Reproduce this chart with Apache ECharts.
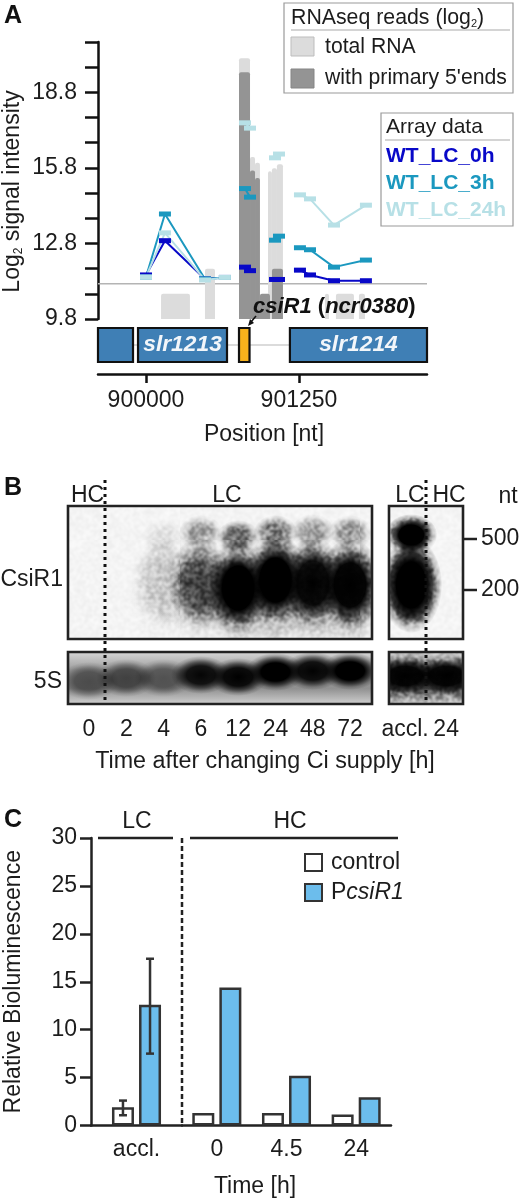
<!DOCTYPE html>
<html><head><meta charset="utf-8">
<style>html,body{margin:0;padding:0;background:#fff}#c{width:520px;height:1199px}</style>
<script src="https://cdn.jsdelivr.net/npm/echarts@6/dist/echarts.min.js"></script>
</head><body><div id="c"></div>
<script>
// ---------- Panel A data ----------
const posMin = 899608, posMax = 902296;
const posTicks = [900000, 901250];
const signalTicks = [9.8,10.8,11.8,12.8,13.8,14.8,15.8,16.8,17.8,18.8,19.8,20.8];
const signalLabels = [9.8,12.8,15.8,18.8];
const baseline = 11.2;
const totalStart = [900123,900482,900760,900850,900891,900997,901029,901070,901462,901552,901740];
const totalEnd   = [900359,900564,900850,900891,900931,901029,901070,901119,901495,901699,901789];
const totalTop   = [10.8,11.8,20.15,16.23,16.0,15.67,15.79,15.95,10.8,10.8,10.8];
const primaryStart = [900760,900850,900891,900931,901029];
const primaryEnd   = [900850,900891,900931,901013,901119];
const primaryTop   = [19.6,15.7,15.4,10.8,11.8];
const arrayPos = [900000,900155,900482,900645,900700,900809,900850,900900,901054,901087,901200,901258,901340,901536,901797];
const wt0h  = [11.55,12.91,11.39,11.45,null,11.86,11.72,null,11.37,11.37,null,11.74,11.55,11.32,11.32];
const wt3h  = [11.47,13.97,11.39,11.45,null,14.98,14.64,null,12.93,13.09,null,12.63,12.55,11.86,12.14];
const wt24h = [11.47,13.22,11.35,11.45,null,17.59,17.38,null,16.2,16.35,null,14.73,14.57,13.53,14.32];
const geneStart = [899608,899935,900760,901176];
const geneEnd   = [899894,900662,900846,902296];
const geneName  = ['','slr1213','','slr1214'];
const geneKind  = [0,0,1,0];
// ---------- Panel B data ----------
const laneLabels = ['0','2','4','6','12','24','48','72'];
const laneIdx = [0,1,2,3,4,5,6,7];
const upperBand = [0,0,0.07,0.3,0.52,0.46,0.3,0.32];
const upperDist = [27,27,32,27,32,27,26,27];
const lowerBand = [0,0,0.15,0.62,1,1,0.95,0.98];
const lowerDist = [76,76,76,77,82,74,77,79];
const hazeBand  = [0,0,0.03,0.12,0.2,0.2,0.18,0.18];
const hazeDist  = [95,95,95,95,100,100,100,100];
const sideLabels = ['accl.','24'];
const sideLanes = [0.15,1];
const sideUpper = [1.1,0];
const sideUpperDist = [29,29];
const sideLower = [1.3,0];
const sideLowerDist = [79,79];
const sizeLabels = ['500','200'];
const sizeDist = [33,84];
const band5S = [0.45,0.52,0.42,0.88,0.92,1,0.9,1];
const dist5S = [29,26,26,23,25,20,19,19];
const band5Sside = [0.95,0.95];
const dist5Sside = [24,24];
// ---------- Panel C data ----------
const accCat = ['accl.'];
const hcCat = ['0','4.5','24'];
const controlAcc = [1.9];
const reporterAcc = [12.6];
const controlHC = [1.3,1.3,1.15];
const reporterHC = [14.4,5.2,2.95];
const errControl = [1.07,2.6];
const errReporter = [7.5,17.4];

const FF = '"Liberation Sans",Arial,sans-serif';
const INK = '#1c1c1c';
const chart = echarts.init(document.getElementById('c'), null, {renderer:'canvas'});

function blocks(start,end,top,color,xi,z){
  return {type:'custom',xAxisIndex:xi,yAxisIndex:xi,z,silent:true,
    data:start.map((s,i)=>[s,end[i],top[i]]),encode:{x:[0,1],y:2},
    renderItem(p,api){
      const a=api.coord([api.value(0),api.value(2)]), b=api.coord([api.value(1),signalTicks[0]]);
      return {type:'rect',shape:{x:a[0],y:a[1],width:b[0]-a[0],height:b[1]-a[1],r:[2,2,0,0]},style:{fill:color}};
    }};
}
function arrayLine(vals,color){
  return {type:'line',xAxisIndex:0,yAxisIndex:0,z:6,silent:true,connectNulls:false,
    data:arrayPos.map((x,i)=>[x,vals[i]]),symbol:'rect',symbolSize:[12,5],showSymbol:true,
    lineStyle:{color,width:2},itemStyle:{color}};
}
function bands(xi,lanes,dist,vals,rx,ry,z){
  return {type:'custom',xAxisIndex:xi,yAxisIndex:xi,z:z||3,clip:true,silent:true,
    data:lanes.map((l,i)=>[l,dist[i],vals[i]]),encode:{x:0,y:1},
    renderItem(p,api){
      const c=api.coord([api.value(0),api.value(1)]), k=api.value(2);
      const a=f=>'rgba(0,0,0,'+Math.min(1,k*f).toFixed(3)+')';
      return {type:'circle',x:c[0],y:c[1],scaleX:1,scaleY:ry/rx,shape:{cx:0,cy:0,r:rx},
        style:{fill:new echarts.graphic.RadialGradient(.5,.5,.5,[
          {offset:0,color:a(1.1)},{offset:.48,color:a(1.0)},{offset:.68,color:a(.62)},{offset:.85,color:a(.2)},{offset:1,color:a(0)}])}};
    }};
}
function errBar(vals,idx){
  return {type:'custom',xAxisIndex:6,yAxisIndex:6,z:8,silent:true,
    data:[[0,vals[0],vals[1]]],encode:{x:0,y:[1,2]},
    renderItem(p,api){
      const lay=api.barLayout({count:2,barWidth:22,barGap:'23%'})[idx];
      const lo=api.coord([api.value(0),api.value(1)]),hi=api.coord([api.value(0),api.value(2)]);
      const x=lo[0]+lay.offsetCenter, st={stroke:'#333',lineWidth:2.5};
      const ln=(x1,y1,x2,y2)=>({type:'line',shape:{x1,y1,x2,y2},style:st});
      return {type:'group',children:[ln(x,lo[1],x,hi[1]),ln(x-4,lo[1],x+4,lo[1]),ln(x-4,hi[1],x+4,hi[1])]};
    }};
}
function bar(name,vals,xi,color){
  return {type:'bar',name,xAxisIndex:xi,yAxisIndex:xi,data:vals,barWidth:22,barGap:'23%',z:4,silent:true,
    itemStyle:{color,borderColor:'#333',borderWidth:2.5}};
}
const hiddenX=(gi,min,max)=>({type:'value',gridIndex:gi,min,max,show:false});
const hiddenY=(gi,min,max,inverse)=>({type:'value',gridIndex:gi,min,max,inverse:!!inverse,show:false});

// film grain, applied with an overlay blend (style only, no data)
const grainCv=document.createElement('canvas');grainCv.width=grainCv.height=180;
(function(){const src=document.createElement('canvas');src.width=src.height=180;const g=src.getContext('2d');
  for(let y=0;y<90;y++)for(let x=0;x<90;x++){
    let h=(x*374761393+y*668265263)|0;h=Math.imul(h^(h>>>13),1274126177);h=(h^(h>>>16))>>>0;
    const v=Math.round(40+(h%176));g.fillStyle='rgb('+v+','+v+','+v+')';g.fillRect(x*2,y*2,2,2);}
  const t=grainCv.getContext('2d');t.filter='blur(0.8px)';t.drawImage(src,0,0);
})();

const T=(x,y,text,o)=>Object.assign({type:'text',x,y:y+1.5,z:40,silent:true,
  style:Object.assign({text,font:'23px '+FF,fill:INK,textAlign:'left',textVerticalAlign:'middle'},o||{})});
const R=(x,y,w,h,st,z)=>({type:'rect',z:z||40,silent:true,shape:{x,y,width:w,height:h},style:st});
const L=(x1,y1,x2,y2,st,z)=>({type:'line',z:z||40,silent:true,shape:{x1,y1,x2,y2},style:st});
const dots={stroke:'#111',lineWidth:3,lineDash:[3,4]};
const frame={fill:'none',stroke:'#222',lineWidth:2.6};
const grad=(a,b,c,d)=>new echarts.graphic.LinearGradient(0,0,0,1,[{offset:0,color:a},{offset:.35,color:b},{offset:.7,color:c},{offset:1,color:d}]);
const grainFill=()=>({fill:{image:grainCv,repeat:'repeat'},blend:'overlay'});

const graphicEls=[
  T(4,15,'A',{font:'bold 25px '+FF,fill:'#111'}),
  T(4,487,'B',{font:'bold 25px '+FF,fill:'#111'}),
  T(4,819,'C',{font:'bold 25px '+FF,fill:'#111'}),
  Object.assign(T(13,190,'Log{s|2} signal intensity',{textAlign:'center',rich:{s:{font:'12px '+FF,fill:INK,verticalAlign:'bottom',padding:[8,0,0,0]}}}),{rotation:Math.PI/2}),
  // RNAseq key
  R(284,3,229,90,{fill:'#fff',stroke:'#9a9a9a',lineWidth:1.2}),
  L(291,30,510,30,{stroke:'#aaa',lineWidth:1.2}),
  T(291,17,'RNAseq reads (log{s|2})',{font:'21.3px '+FF,rich:{s:{font:'11px '+FF,fill:INK,verticalAlign:'bottom',padding:[8,0,0,0]}}}),
  R(291,37,23,19,{fill:'#dcdcdc',stroke:'#bdbdbd',lineWidth:1}),
  T(325,46,'total RNA',{font:'21.2px '+FF}),
  R(291,69,23,19,{fill:'#949494',stroke:'#858585',lineWidth:1}),
  T(325,77,"with primary 5'ends",{font:'21.2px '+FF}),
  // Array key
  R(381,113,132,113,{fill:'#fff',stroke:'#9a9a9a',lineWidth:1.2}),
  L(385,140,510,140,{stroke:'#aaa',lineWidth:1.2}),
  T(386,126,'Array data',{font:'21px '+FF}),
  T(386,155,'WT_LC_0h',{font:'bold 21px '+FF,fill:'#0808c8'}),
  T(386,182,'WT_LC_3h',{font:'bold 21px '+FF,fill:'#1b98bf'}),
  T(386,209,'WT_LC_24h',{font:'bold 21px '+FF,fill:'#b7e0e6'}),
  // transcript label
  T(253,305,'{i|csiR1} {b|(}{i|ncr0380}{b|)}',{font:'bold 22px '+FF,rich:{
    i:{font:'italic bold 22px '+FF,fill:'#111'},b:{font:'bold 22px '+FF,fill:'#111'}}}),
  L(256,316,251,322,{stroke:'#111',lineWidth:1.5}),
  {type:'polygon',z:40,silent:true,shape:{points:[[248,326],[250,319],[254,323]]},style:{fill:'#111'}},
  T(264,433,'Position [nt]',{textAlign:'center'}),
  // Panel B headers
  T(71,494,'HC'),T(227,494,'LC',{textAlign:'center'}),T(410,494,'LC',{textAlign:'center'}),
  T(449,494,'HC',{textAlign:'center'}),T(508,495,'nt',{textAlign:'center'}),
  T(63,578,'CsiR1',{textAlign:'right'}),T(62,680,'5S',{textAlign:'right'}),
  T(265,760,'Time after changing Ci supply [h]',{textAlign:'center',font:'23.3px '+FF}),
  // blot backgrounds
  R(68,506,304,133,{fill:'#f4f4f4'},1),R(389,506,74,133,{fill:'#f5f5f5'},1),
  R(68,652,304,52,{fill:grad('#d6d6d6','#9c9c9c','#909090','#cfcfcf')},1),
  R(389,652,74,52,{fill:grad('#c4c4c4','#6a6a6a','#5e5e5e','#cacaca')},1),
  // grain
  R(68,506,304,133,grainFill(),30),R(389,506,74,133,grainFill(),30),R(389,652,74,52,grainFill(),30),
  // blot frames and dividers
  R(68,506,304,133,frame,35),R(389,506,74,133,frame,35),R(68,652,304,52,frame,35),R(389,652,74,52,frame,35),
  L(105,480,105,700,dots),L(426,480,426,700,dots),
  // Panel C annotations
  L(98,838,173,838,{stroke:'#222',lineWidth:2.5}),L(190,838,398,838,{stroke:'#222',lineWidth:2.5}),
  T(137,820,'LC',{textAlign:'center'}),T(290,820,'HC',{textAlign:'center'}),
  L(182,838,182,1125,{stroke:'#222',lineWidth:2.5,lineDash:[5,3]}),
  T(255,1185,'Time [h]',{textAlign:'center'}),
];

const G=(left,top,width,height)=>({left,top,width,height,outerBoundsMode:'none'});
const option={
  animation:false,backgroundColor:'#fff',
  textStyle:{fontFamily:FF,color:INK},
  grid:[G(98,42,329,277),G(98,328,329,34),G(68,506,304,133),G(389,506,74,133),G(68,652,304,52),G(389,652,74,52),
    G(91,838,91,287.5),G(182,838,209,287.5)],
  xAxis:[
    hiddenX(0,posMin,posMax),
    {type:'value',gridIndex:1,min:posMin,max:posMax,position:'bottom',offset:12,splitLine:{show:false},
      axisLine:{show:true,onZero:false,lineStyle:{color:'#111',width:2.5}},
      axisTick:{show:true,length:9,lineStyle:{color:'#111',width:2.5},customValues:posTicks},
      axisLabel:{show:true,fontSize:23,color:INK,margin:15,customValues:posTicks,formatter:v=>String(v)}},
    hiddenX(2,-0.563,7.59),
    hiddenX(3,-0.39,1.41),
    {type:'value',gridIndex:4,min:-0.563,max:7.59,splitLine:{show:false},axisLine:{show:false},
      axisTick:{show:false,customValues:laneIdx},
      axisLabel:{show:true,fontSize:23,color:INK,margin:14,customValues:laneIdx,formatter:v=>laneLabels[v]}},
    {type:'value',gridIndex:5,min:-0.39,max:1.41,splitLine:{show:false},axisLine:{show:false},
      axisTick:{show:false,customValues:[0,1]},
      axisLabel:{show:true,fontSize:23,color:INK,margin:14,customValues:[0,1],formatter:v=>sideLabels[v]}},
    {type:'category',gridIndex:6,data:accCat,axisLine:{lineStyle:{color:'#222',width:2.5}},
      axisTick:{length:9,lineStyle:{color:'#222',width:2.5}},axisLabel:{fontSize:23,color:INK,margin:13}},
    {type:'category',gridIndex:7,data:hcCat,axisLine:{lineStyle:{color:'#222',width:2.5}},
      axisTick:{length:9,lineStyle:{color:'#222',width:2.5}},axisLabel:{fontSize:23,color:INK,margin:13}},
  ],
  yAxis:[
    {type:'value',gridIndex:0,min:9.8,max:20.8,splitLine:{show:false},
      axisLine:{show:true,lineStyle:{color:'#111',width:2.5}},
      axisTick:{show:true,length:13,lineStyle:{color:'#111',width:2.5},customValues:signalTicks},
      axisLabel:{show:true,fontSize:23,color:INK,margin:21,padding:[3,0,0,0],customValues:signalLabels,formatter:v=>v.toFixed(1)}},
    hiddenY(1,0,1),
    hiddenY(2,0,133,true),
    {type:'value',gridIndex:3,min:0,max:133,inverse:true,position:'right',splitLine:{show:false},
      axisLine:{show:false},axisTick:{show:false},
      axisLabel:{show:true,fontSize:23,color:INK,margin:18,padding:[4,0,0,0],customValues:sizeDist,formatter:v=>sizeLabels[sizeDist.indexOf(v)]}},
    hiddenY(4,0,52,true),
    hiddenY(5,0,52,true),
    {type:'value',gridIndex:6,min:0,max:30,interval:5,splitLine:{show:false},
      axisLine:{show:true,lineStyle:{color:'#222',width:2.5}},
      axisTick:{show:true,length:11,lineStyle:{color:'#222',width:2.5}},
      axisLabel:{fontSize:23,color:INK,margin:14,padding:[2,0,0,0]},
      name:'Relative Bioluminescence',nameLocation:'middle',nameGap:66,nameTextStyle:{fontSize:23,color:INK}},
    hiddenY(7,0,30),
  ],
  legend:{orient:'vertical',left:299,top:846,itemWidth:17,itemHeight:17,itemGap:7,selectedMode:false,icon:'rect',
    data:['control','reporter'],
    formatter:n=>n==='control'?'control':'{a|P}{b|csiR1}',
    textStyle:{fontSize:23,color:INK,padding:[0,0,0,4],rich:{a:{fontSize:23,color:INK},b:{fontSize:23,color:INK,fontStyle:'italic'}}}},
  series:[
    {type:'line',xAxisIndex:0,yAxisIndex:0,z:1,silent:true,symbol:'none',
      data:[[posMin,baseline],[posMax,baseline]],lineStyle:{color:'#b4b4b4',width:1.6}},
    blocks(totalStart,totalEnd,totalTop,'#dcdcdc',0,2),
    blocks(primaryStart,primaryEnd,primaryTop,'#949494',0,3),
    arrayLine(wt0h,'#0808c8'),
    arrayLine(wt3h,'#1b98bf'),
    arrayLine(wt24h,'#b7e0e6'),
    {type:'line',xAxisIndex:1,yAxisIndex:1,z:1,silent:true,symbol:'none',
      data:[[posMin,0.5],[geneStart[3],0.5]],lineStyle:{color:'#cfcfcf',width:1.6}},
    {type:'custom',xAxisIndex:1,yAxisIndex:1,z:3,silent:true,clip:false,
      data:geneStart.map((s,i)=>[s,geneEnd[i]]),encode:{x:[0,1]},
      renderItem(p,api){
        const i=p.dataIndex,a=api.coord([api.value(0),1]),b=api.coord([api.value(1),0]);
        return {type:'rect',shape:{x:a[0],y:a[1],width:b[0]-a[0],height:b[1]-a[1]},
          style:{fill:geneKind[i]?'#f7b21c':'#3f7fb5',stroke:'#111',lineWidth:2.2},
          textContent:{style:{text:geneName[i],fill:'#f2f6fa',font:'italic bold 22.8px '+FF}},
          textConfig:{position:'inside'}};
      }},
    bands(2,laneIdx,hazeDist,hazeBand,34,44,2),
    bands(2,laneIdx,upperDist,upperBand,22,18),
    bands(2,laneIdx,lowerDist,lowerBand,33,46),
    bands(3,sideLanes,sideUpperDist,sideUpper,26,21),
    bands(3,sideLanes,sideLowerDist,sideLower,31,48),
    bands(4,laneIdx,dist5S,band5S,30,19),
    bands(5,[0,1],dist5Sside,band5Sside,36,20),
    // size-marker ticks on the right blot, placed from sizeDist
    {type:'custom',xAxisIndex:3,yAxisIndex:3,z:8,silent:true,clip:false,
      data:sizeDist.map(d=>[1.41,d]),encode:{x:0,y:1},
      renderItem(p,api){
        const c=api.coord([api.value(0),api.value(1)]);
        return {type:'line',shape:{x1:c[0],y1:c[1],x2:c[0]+14,y2:c[1]},style:{stroke:'#222',lineWidth:2.5}};
      }},
    bar('control',controlAcc,6,'#fff'),
    bar('reporter',reporterAcc,6,'#6cbdec'),
    bar('control',controlHC,7,'#fff'),
    bar('reporter',reporterHC,7,'#6cbdec'),
    errBar(errControl,0),
    errBar(errReporter,1),
  ],
  graphic:{elements:graphicEls}
};
chart.setOption(option);
</script></body></html>
